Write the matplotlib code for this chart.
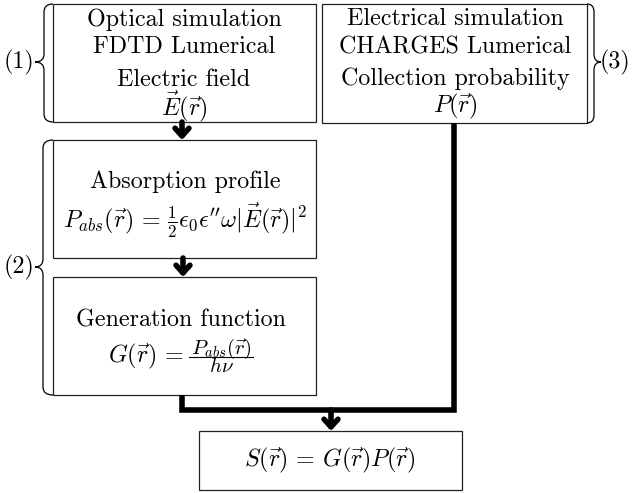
import matplotlib
matplotlib.use("Agg")
import matplotlib.pyplot as plt
from matplotlib.path import Path
from matplotlib.patches import PathPatch, Rectangle

plt.rcParams['font.family'] = 'serif'
plt.rcParams['font.serif'] = ['cmr10']
plt.rcParams['mathtext.fontset'] = 'cm'
plt.rcParams['axes.unicode_minus'] = False

# ---- content ----
box1_lines = ["Optical simulation", "FDTD Lumerical", "Electric field", r"$\vec{E}(\vec{r})$"]
box3_lines = ["Electrical simulation", "CHARGES Lumerical", "Collection probability", r"$P(\vec{r})$"]
box2a_lines = ["Absorption profile",
               r"$P_{abs}(\vec{r})\,=\,\frac{1}{2}\epsilon_0\epsilon^{\prime\prime}\omega|\vec{E}(\vec{r})|^2$"]
box2b_title = "Generation function"
box2b_lhs = r"$G(\vec{r})\,=$"
box2b_num = r"$P_{abs}(\vec{r})$"
box2b_den = r"$h\nu$"
boxS_lines = [r"$S(\vec{r})\,=\,G(\vec{r})P(\vec{r})$"]
brace_labels = ["(1)", "(2)", "(3)"]

W, H = 634, 493
fig = plt.figure(figsize=(W / 100, H / 100), dpi=100)
ax = fig.add_axes([0, 0, 1, 1])
ax.set_xlim(0, W)
ax.set_ylim(H, 0)
ax.axis('off')

FS = 17.3

def box(x0, y0, x1, y1):
    ax.add_patch(Rectangle((x0, y0), x1 - x0, y1 - y0, fill=False,
                           edgecolor='#222222', lw=0.9))

def texts(xc, ys, lines, fs=FS):
    for y, t in zip(ys, lines):
        ax.text(xc, y, t, ha='center', va='center', fontsize=fs, color='black')

# boxes
box(53, 4, 316, 122)
texts(184, [20, 47, 80, 106], box1_lines)
box(322, 4, 587, 123)
texts(455, [19, 47, 79, 106], box3_lines)
box(53, 140, 316, 258)
texts(185, [182, 220], box2a_lines)
box(53, 277, 316, 395)
texts(181, [320], [box2b_title])
ax.text(183, 362, box2b_lhs, ha='right', va='baseline', fontsize=FS)
# fraction drawn as numerator / bar / denominator (one two-line text)
ax.text(221, 372, box2b_num + "\n" + box2b_den, ha='center', va='baseline',
        multialignment='center', fontsize=15, linespacing=0.72)
ax.plot([189, 253], [356.5, 356.5], color='black', lw=0.8)
box(199, 431, 462, 490)
texts(330, [460], boxS_lines)

def brace(xe, xm, xt, y0, y1, ym):
    r = 8
    verts = [(xe, y0), (xm, y0), (xm, y0 + r),
             (xm, ym - r),
             (xm, ym), (xt, ym),
             (xm, ym), (xm, ym + r),
             (xm, y1 - r),
             (xm, y1), (xe, y1)]
    codes = [Path.MOVETO, Path.CURVE3, Path.CURVE3,
             Path.LINETO,
             Path.CURVE3, Path.CURVE3,
             Path.CURVE3, Path.CURVE3,
             Path.LINETO,
             Path.CURVE3, Path.CURVE3]
    ax.add_patch(PathPatch(Path(verts, codes), fill=False, edgecolor='black', lw=0.9))

brace(53, 44, 35, 4, 122, 62)
brace(53, 43, 35, 140, 395, 267)
brace(587, 594, 601, 4, 123, 62)
ax.text(19, 62, brace_labels[0], ha='center', va='center', fontsize=FS)
ax.text(19, 267, brace_labels[1], ha='center', va='center', fontsize=FS)
ax.text(615, 62, brace_labels[2], ha='center', va='center', fontsize=FS)

LW = 4
def arrow(x, y0, y1):
    ax.annotate('', xy=(x, y1), xytext=(x, y0),
                arrowprops=dict(arrowstyle='->,head_length=0.55,head_width=0.5',
                                lw=LW, color='black', shrinkA=0, shrinkB=0))

arrow(182, 122, 140)
arrow(183, 258, 277)
# connector lines
ax.plot([182, 182, 454, 454], [395, 410, 410, 123], color='black', lw=LW,
        solid_joinstyle='miter', solid_capstyle='butt')
arrow(331, 410, 431)

fig.savefig('out.png', dpi=100, facecolor='white')
